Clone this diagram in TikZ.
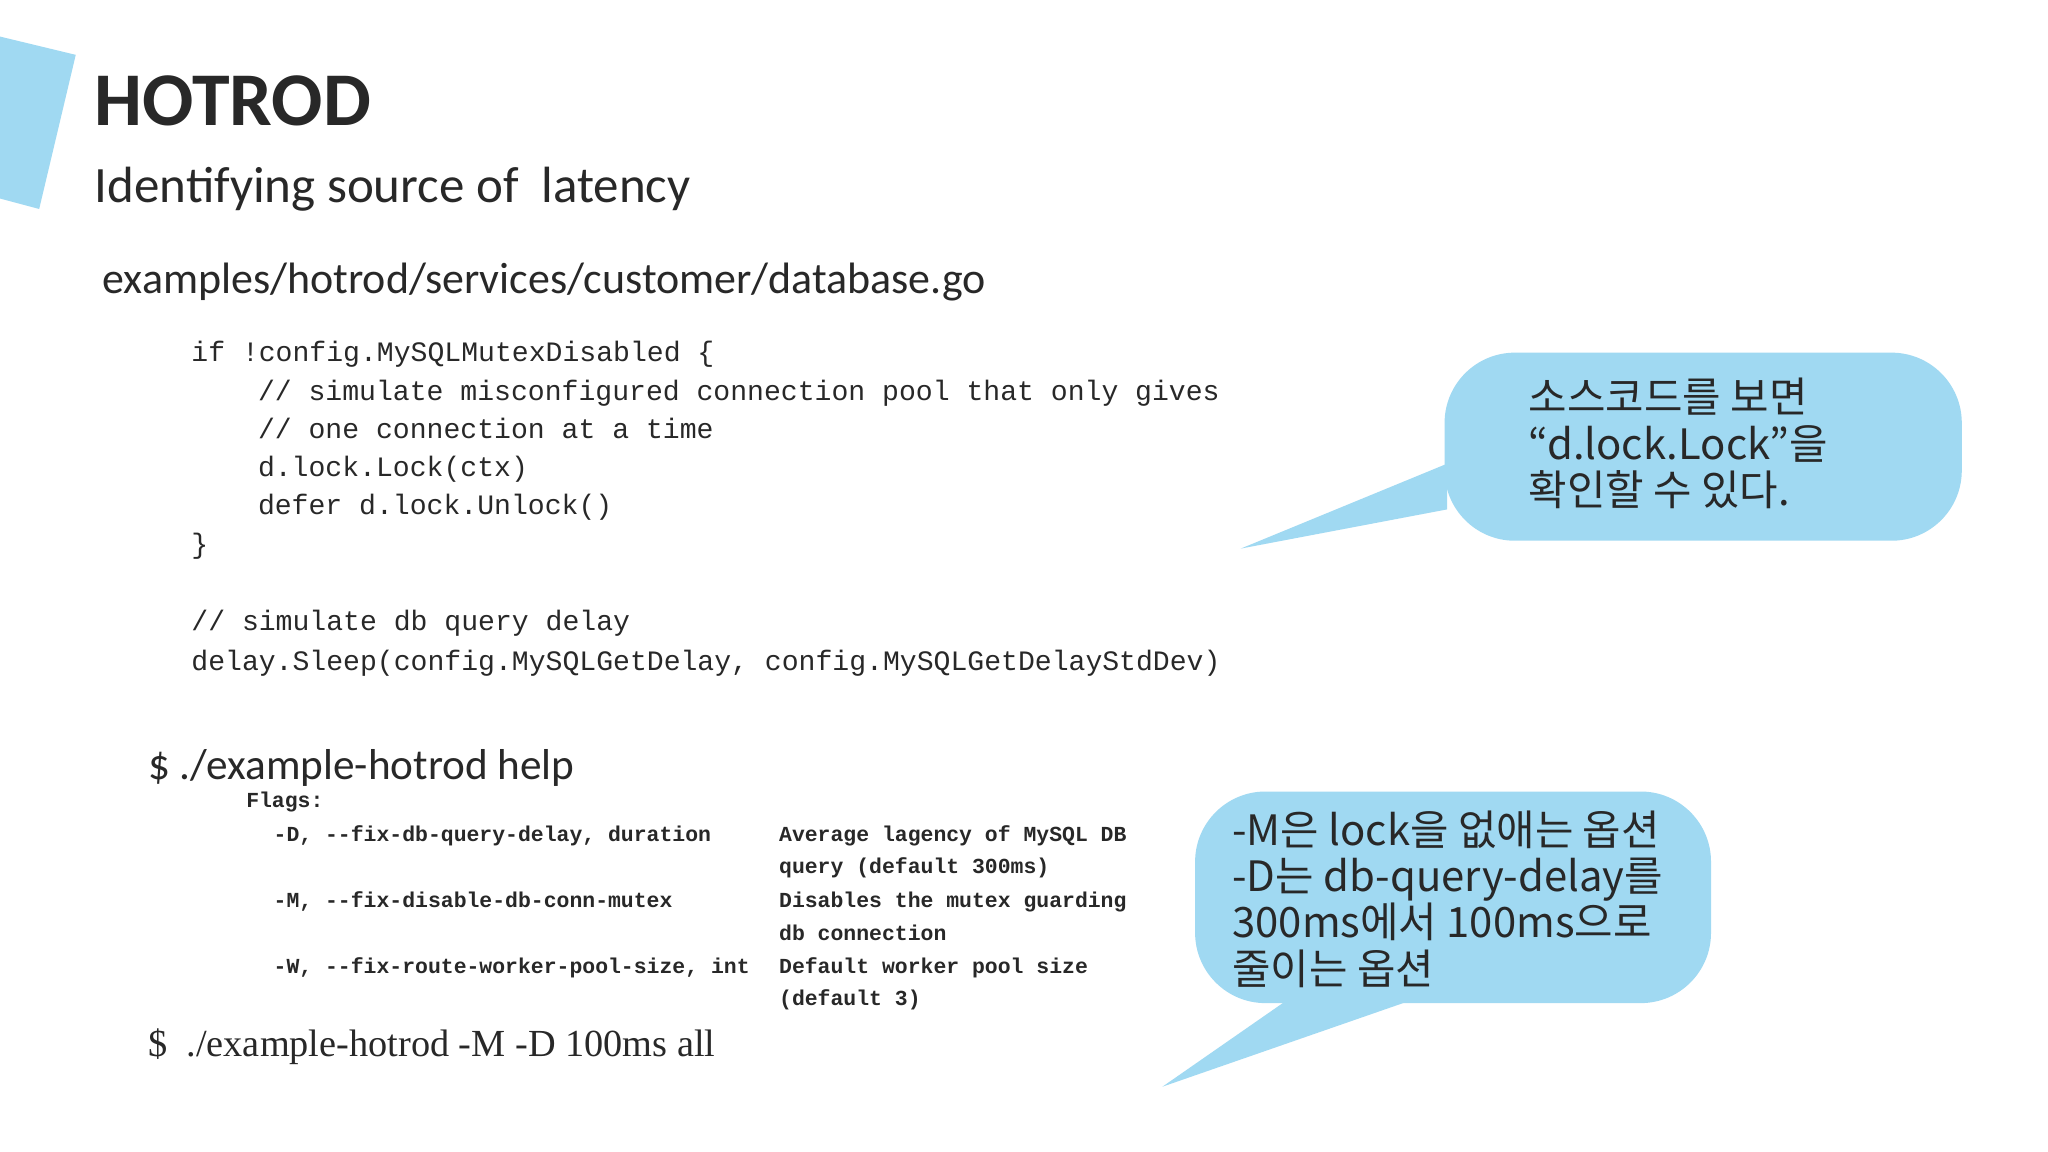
\documentclass[tikz,border=0pt]{standalone}
\usepackage{fontspec}
\setmainfont{Carlito}
\newfontfamily\codef{Liberation Mono}
\newfontfamily\serf{Liberation Serif}
\newfontfamily\krf{Noto Sans CJK KR}
\definecolor{bub}{RGB}{160,217,242}
\definecolor{txt}{RGB}{40,40,40}
\tikzset{
 lbl/.style={anchor=base west,inner sep=0pt,text=txt},
 code/.style={lbl,font=\codef\fontsize{8}{10}\selectfont},
 flag/.style={lbl,font=\codef\bfseries\fontsize{6.1}{7}\selectfont},
 kr/.style={anchor=north west,inner sep=0pt,align=left,text=txt,font=\krf\fontsize{11.9}{13.2}\selectfont},
 bubble/.style={fill=bub,draw=none}
}
\begin{document}
\begin{tikzpicture}[x=0.013061cm,y=-0.013061cm]
\useasboundingbox[fill=white] (0,0) rectangle (1568,882);
\fill[bub] (0,28) -- (58,42) -- (30,160) -- (0,152) -- cycle;
\node[lbl,font=\bfseries\fontsize{21.6}{24}\selectfont] (title) at (72,96) {HOTROD};
\node[lbl,font=\fontsize{14.5}{17}\selectfont] (sub) at (72,155) {Identifying source of\ \ latency};
\node[lbl,font=\fontsize{12.5}{15}\selectfont] (path) at (78,225) {examples/hotrod/services/customer/database.go};
\node[code] (c1) at (146,277) {if !config.MySQLMutexDisabled \{};
\node[code] (c2) at (197,307) {// simulate misconfigured connection pool that only gives};
\node[code] (c3) at (197,336) {// one connection at a time};
\node[code] (c4) at (197,365) {d.lock.Lock(ctx)};
\node[code] (c5) at (197,394) {defer d.lock.Unlock()};
\node[code] (c6) at (146,424) {\}};
\node[code] (c7) at (146,483) {// simulate db query delay};
\node[code] (c8) at (146,513) {delay.Sleep(config.MySQLGetDelay, config.MySQLGetDelayStdDev)};
\node[lbl,font=\fontsize{12.3}{15}\selectfont] (help) at (113,597) {\$ ./example-hotrod help};
\node[flag] (f0) at (188,618) {Flags:};
\node[flag] (f1) at (209,644) {-D, --fix-db-query-delay, duration};
\node[flag] (f2) at (209,695) {-M, --fix-disable-db-conn-mutex};
\node[flag] (f3) at (209,745) {-W, --fix-route-worker-pool-size, int};
\node[flag] (d1) at (596,644) {Average lagency of MySQL DB};
\node[flag] (d2) at (596,669) {query (default 300ms)};
\node[flag] (d3) at (596,695) {Disables the mutex guarding};
\node[flag] (d4) at (596,720) {db connection};
\node[flag] (d5) at (596,745) {Default worker pool size};
\node[flag] (d6) at (596,770) {(default 3)};
\node[lbl,font=\serf\fontsize{10.9}{13}\selectfont] (run) at (113,809) {\$\ \ ./example-hotrod -M -D 100ms all};
% bubble 1
\coordinate (t1) at (950,420);
\fill[bubble,rounded corners=20pt] (1106,270) rectangle (1502,414);
\fill[bubble] (1108,355) -- (t1) -- (1108,390) -- cycle;
\node[kr] (k1) at (1170,289) {소스코드를 보면\\“d.lock.Lock”을\\확인할 수 있다.};
% bubble 2
\coordinate (t2) at (890,832);
\fill[bubble,rounded corners=20pt] (915,606) rectangle (1310,768);
\fill[bubble] (985,766) -- (t2) -- (1080,766) -- cycle;
\node[kr] (k2) at (943,620) {-M은 lock을 없애는 옵션\\-D는 db-query-delay를\\300ms에서 100ms으로\\줄이는 옵션};
\end{tikzpicture}
\end{document}
